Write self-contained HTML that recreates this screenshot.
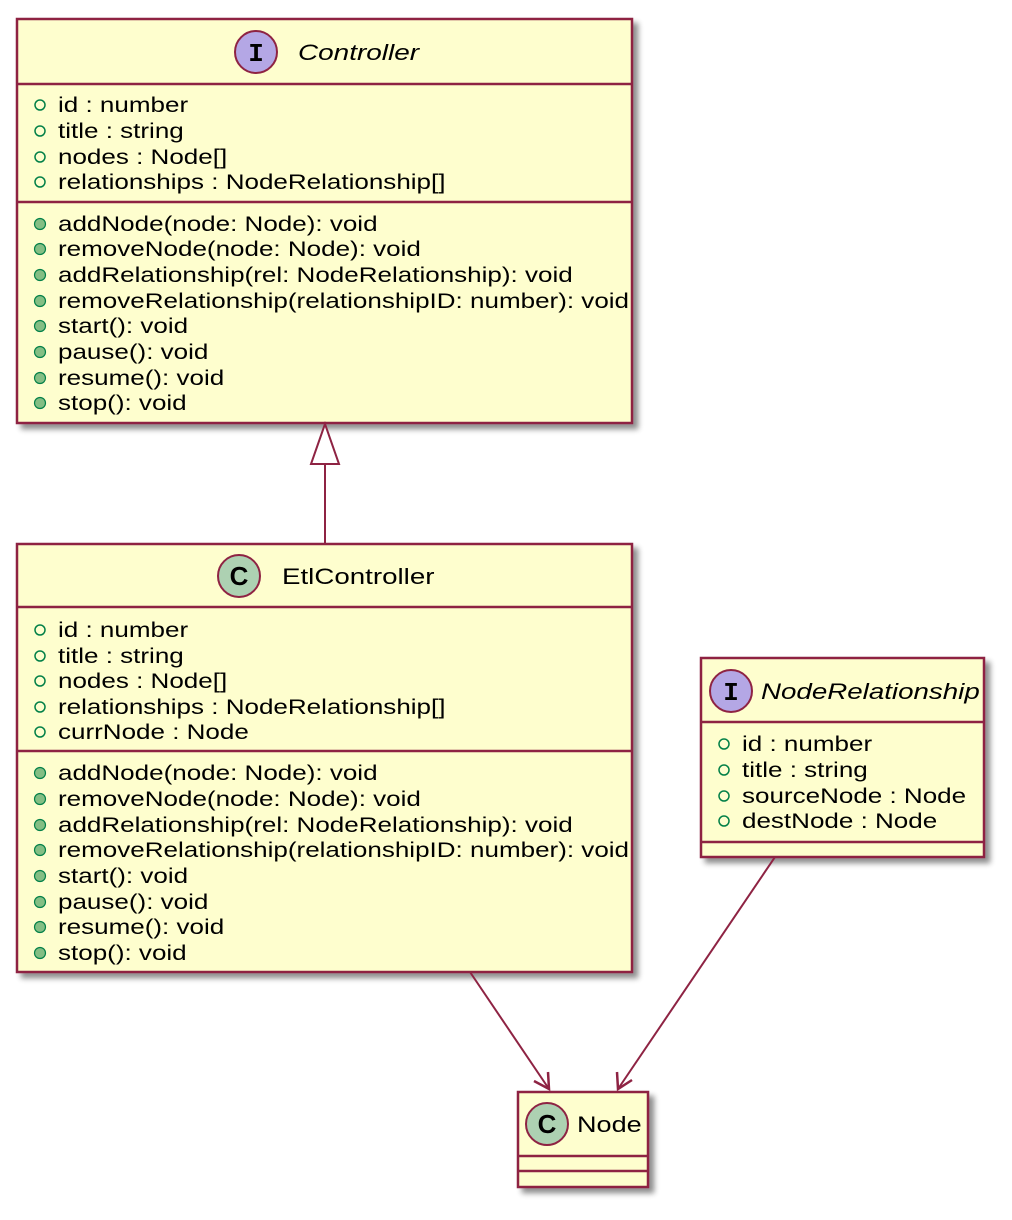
<!DOCTYPE html>
<html><head><meta charset="utf-8"><style>
html,body{margin:0;padding:0;background:#fff;}
svg{display:block;}
text{font-family:"Liberation Sans",sans-serif;font-size:21.5px;fill:#000;}
.h{font-size:22px;}
</style></head><body>
<svg width="1012" height="1220" viewBox="0 0 1012 1220" xmlns="http://www.w3.org/2000/svg">
<defs>
<filter id="sh" x="-10%" y="-10%" width="130%" height="130%"><feGaussianBlur in="SourceAlpha" stdDeviation="3"/><feOffset dx="5" dy="5"/><feComponentTransfer><feFuncA type="linear" slope="0.45"/></feComponentTransfer><feMerge><feMergeNode/><feMergeNode in="SourceGraphic"/></feMerge></filter>
</defs>
<g fill="#FEFECE" stroke="#8E2343" stroke-width="2.5" filter="url(#sh)">
<rect x="17" y="19" width="615" height="404"/>
<rect x="17" y="544" width="615" height="428"/>
<rect x="701" y="658" width="283" height="199"/>
<rect x="518" y="1092" width="130" height="95"/>
</g>
<g stroke="#8E2343" stroke-width="2.5">
<line x1="17" y1="84" x2="632" y2="84"/>
<line x1="17" y1="202" x2="632" y2="202"/>
<line x1="17" y1="607" x2="632" y2="607"/>
<line x1="17" y1="751" x2="632" y2="751"/>
<line x1="701" y1="722" x2="984" y2="722"/>
<line x1="701" y1="842" x2="984" y2="842"/>
<line x1="518" y1="1156" x2="648" y2="1156"/>
<line x1="518" y1="1171" x2="648" y2="1171"/>
</g>
<g stroke="#8E2343" stroke-width="2" fill="none">
<line x1="325" y1="464" x2="325" y2="544"/>
<polygon points="325,424 311,464 339,464" fill="#fff"/>
<line x1="470" y1="972" x2="549" y2="1089"/>
<polyline points="534,1081 549,1089 548,1072" stroke-width="2.5"/>
<line x1="775" y1="857" x2="618" y2="1089"/>
<polyline points="617,1072 618,1089 632,1080" stroke-width="2.5"/>
</g>
<g stroke="#8E2343" stroke-width="2">
<circle cx="256" cy="52" r="21" fill="#B4A7E5"/>
<circle cx="239" cy="576" r="21" fill="#ADD1B2"/>
<circle cx="731" cy="691" r="21" fill="#B4A7E5"/>
<circle cx="547" cy="1124" r="21" fill="#ADD1B2"/>
</g>
<text x="256" y="61" text-anchor="middle" style="font-family:'Liberation Mono',monospace;font-weight:bold;font-size:26px">I</text>
<text x="731" y="700" text-anchor="middle" style="font-family:'Liberation Mono',monospace;font-weight:bold;font-size:26px">I</text>
<text x="239" y="585" text-anchor="middle" style="font-weight:bold;font-size:26px">C</text>
<text x="547" y="1133" text-anchor="middle" style="font-weight:bold;font-size:26px">C</text>
<text class="h" transform="translate(298,60) scale(1.27,1)" style="font-style:italic">Controller</text>
<text class="h" transform="translate(282,584) scale(1.26,1)">EtlController</text>
<text class="h" transform="translate(761,699) scale(1.26,1)" style="font-style:italic">NodeRelationship</text>
<text class="h" transform="translate(577,1132) scale(1.23,1)">Node</text>
<g fill="none" stroke="#038048" stroke-width="1.5">
<circle cx="40" cy="105" r="5"/><circle cx="40" cy="131" r="5"/><circle cx="40" cy="157" r="5"/><circle cx="40" cy="182" r="5"/>
<circle cx="40" cy="630" r="5"/><circle cx="40" cy="656" r="5"/><circle cx="40" cy="681" r="5"/><circle cx="40" cy="707" r="5"/><circle cx="40" cy="732" r="5"/>
<circle cx="724" cy="744" r="5"/><circle cx="724" cy="770" r="5"/><circle cx="724" cy="796" r="5"/><circle cx="724" cy="821" r="5"/>
</g>
<g fill="#84BE84" stroke="#038048" stroke-width="1.2">
<circle cx="40" cy="224" r="5.5"/><circle cx="40" cy="249" r="5.5"/><circle cx="40" cy="275" r="5.5"/><circle cx="40" cy="301" r="5.5"/><circle cx="40" cy="326" r="5.5"/><circle cx="40" cy="352" r="5.5"/><circle cx="40" cy="378" r="5.5"/><circle cx="40" cy="403" r="5.5"/>
<circle cx="40" cy="773" r="5.5"/><circle cx="40" cy="799" r="5.5"/><circle cx="40" cy="825" r="5.5"/><circle cx="40" cy="850" r="5.5"/><circle cx="40" cy="876" r="5.5"/><circle cx="40" cy="902" r="5.5"/><circle cx="40" cy="927" r="5.5"/><circle cx="40" cy="953" r="5.5"/>
</g>
<text transform="translate(58,112) scale(1.21,1)">id : number</text>
<text transform="translate(58,138) scale(1.21,1)">title : string</text>
<text transform="translate(58,164) scale(1.21,1)">nodes : Node[]</text>
<text transform="translate(58,189) scale(1.21,1)">relationships : NodeRelationship[]</text>
<text transform="translate(58,231) scale(1.21,1)">addNode(node: Node): void</text>
<text transform="translate(58,256) scale(1.21,1)">removeNode(node: Node): void</text>
<text transform="translate(58,282) scale(1.21,1)">addRelationship(rel: NodeRelationship): void</text>
<text transform="translate(58,308) scale(1.21,1)">removeRelationship(relationshipID: number): void</text>
<text transform="translate(58,333) scale(1.21,1)">start(): void</text>
<text transform="translate(58,359) scale(1.21,1)">pause(): void</text>
<text transform="translate(58,385) scale(1.21,1)">resume(): void</text>
<text transform="translate(58,410) scale(1.21,1)">stop(): void</text>
<text transform="translate(58,637) scale(1.21,1)">id : number</text>
<text transform="translate(58,663) scale(1.21,1)">title : string</text>
<text transform="translate(58,688) scale(1.21,1)">nodes : Node[]</text>
<text transform="translate(58,714) scale(1.21,1)">relationships : NodeRelationship[]</text>
<text transform="translate(58,739) scale(1.21,1)">currNode : Node</text>
<text transform="translate(58,780) scale(1.21,1)">addNode(node: Node): void</text>
<text transform="translate(58,806) scale(1.21,1)">removeNode(node: Node): void</text>
<text transform="translate(58,832) scale(1.21,1)">addRelationship(rel: NodeRelationship): void</text>
<text transform="translate(58,857) scale(1.21,1)">removeRelationship(relationshipID: number): void</text>
<text transform="translate(58,883) scale(1.21,1)">start(): void</text>
<text transform="translate(58,909) scale(1.21,1)">pause(): void</text>
<text transform="translate(58,934) scale(1.21,1)">resume(): void</text>
<text transform="translate(58,960) scale(1.21,1)">stop(): void</text>
<text transform="translate(742,751) scale(1.21,1)">id : number</text>
<text transform="translate(742,777) scale(1.21,1)">title : string</text>
<text transform="translate(742,803) scale(1.21,1)">sourceNode : Node</text>
<text transform="translate(742,828) scale(1.21,1)">destNode : Node</text>
</svg>
</body></html>
